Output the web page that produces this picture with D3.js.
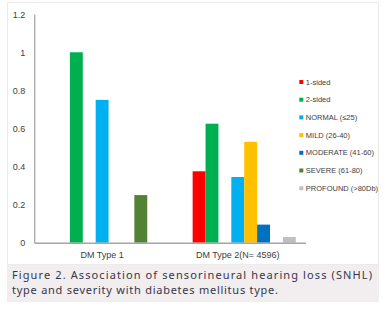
<!DOCTYPE html>
<html>
<head>
<meta charset="utf-8">
<script src="https://cdn.jsdelivr.net/npm/d3@7"></script>
<style>
  body { margin: 0; background: #fff; }
  svg { display: block; }
</style>
</head>
<body>
<div id="vis-holder"></div>
<script>
// Data
const categories = ["DM Type 1", "DM Type 2(N= 4596)"];
const seriesNames = ["1-sided", "2-sided", "NORMAL (\u226425)", "MILD (26-40)", "MODERATE (41-60)", "SEVERE (61-80)", "PROFOUND (>80Db)"];
const seriesColors = ["#FF0000", "#00B050", "#00B0F0", "#FFC000", "#0070C0", "#548235", "#BFBFBF"];
const type1Values = [0, 1.0, 0.75, 0, 0, 0.25, 0];
const type2Values = [0.375, 0.625, 0.345, 0.53, 0.095, 0, 0.03];
const yTicks = [0, 0.2, 0.4, 0.6, 0.8, 1, 1.2];
const captionLines = [
  "Figure 2. Association of sensorineural hearing loss (SNHL)",
  "type and severity with diabetes mellitus type."
];

const width = 391;
const height = 311;
const margin = { top: 14.2, right: 85.4, bottom: 68.3, left: 34.3 };

const svg = d3.select("#vis-holder")
  .append("svg")
  .attr("width", width)
  .attr("height", height);

// faint frame round the chart
svg.append("rect")
  .attr("x", 7.5).attr("y", 2.5)
  .attr("width", 371).attr("height", 262)
  .attr("fill", "none")
  .attr("stroke", "#ebebeb");

// group scale, then slot scale inside each group (Excel left empty slots)
const x0 = d3.scaleBand()
  .domain(categories)
  .range([margin.left, width - margin.right]);

const slots = ["_pad0", seriesNames[0], seriesNames[1], "_pad1"].concat(seriesNames.slice(2));
const x1 = d3.scaleBand()
  .domain(slots)
  .range([0, x0.bandwidth()])
  .paddingOuter(0.76);

const y = d3.scaleLinear()
  .domain([0, 1.2])
  .range([height - margin.bottom, margin.top]);

const tableRows = categories.map((c, i) => ({
  category: c,
  values: (i === 0 ? type1Values : type2Values)
}));

// bars
const groups = svg.selectAll(".group")
  .data(tableRows)
  .enter()
  .append("g")
  .attr("class", "group")
  .attr("transform", (d) => `translate(${x0(d.category)},0)`);

groups.selectAll("rect")
  .data((d) => d.values.map((v, i) => ({ key: seriesNames[i], value: v, color: seriesColors[i] })).filter((d) => d.value > 0))
  .enter()
  .append("rect")
  .attr("x", (d) => x1(d.key))
  .attr("y", (d) => y(d.value))
  .attr("width", x1.bandwidth())
  .attr("height", (d) => y(0) - y(d.value))
  .attr("fill", (d) => d.color);

// y axis
svg.append("g")
  .attr("transform", `translate(${margin.left},0)`)
  .call(d3.axisLeft(y).tickValues(yTicks).tickSize(0).tickPadding(9).tickFormat(d3.format("~g")))
  .call((g) => g.select(".domain").attr("stroke", "#8c8c8c"))
  .call((g) => g.selectAll("text")
    .attr("font-family", "Liberation Sans, Arial, sans-serif")
    .attr("font-size", "9px")
    .attr("fill", "#404040"));

// x axis
svg.append("g")
  .attr("transform", `translate(0,${y(0)})`)
  .call(d3.axisBottom(x0).tickSize(0).tickPadding(9))
  .call((g) => g.select(".domain").attr("stroke", "#a6a6a6").attr("stroke-width", 1.5))
  .call((g) => g.selectAll("text")
    .attr("font-family", "Liberation Sans, Arial, sans-serif")
    .attr("font-size", "9px")
    .attr("fill", "#404040"));

// legend
const legend = svg.append("g")
  .attr("transform", "translate(299.3,82)");

const legendItems = legend.selectAll(".item")
  .data(seriesNames)
  .enter()
  .append("g")
  .attr("class", "item")
  .attr("transform", (d, i) => `translate(0,${i * 17.7})`);

legendItems.append("rect")
  .attr("x", 0).attr("y", -2)
  .attr("width", 4).attr("height", 4)
  .attr("fill", (d, i) => seriesColors[i]);

legendItems.append("text")
  .attr("x", 6.5)
  .attr("dy", "0.35em")
  .attr("font-family", "Liberation Sans, Arial, sans-serif")
  .attr("font-size", "7.5px")
  .attr("fill", "#404040")
  .text((d) => d);

// caption
svg.append("rect")
  .attr("x", 7).attr("y", 265)
  .attr("width", 372).attr("height", 37)
  .attr("fill", "#f2eef0");

svg.selectAll(".caption")
  .data(captionLines)
  .enter()
  .append("text")
  .attr("class", "caption")
  .attr("x", 12)
  .attr("y", (d, i) => 279 + i * 14.5)
  .attr("font-family", "Noto Sans, sans-serif")
  .attr("font-size", "11px")
  .attr("fill", "#36364a")
  .attr("textLength", (d, i) => i === 0 ? 360 : 266)
  .attr("lengthAdjust", "spacing")
  .text((d) => d);
</script>
</body>
</html>
